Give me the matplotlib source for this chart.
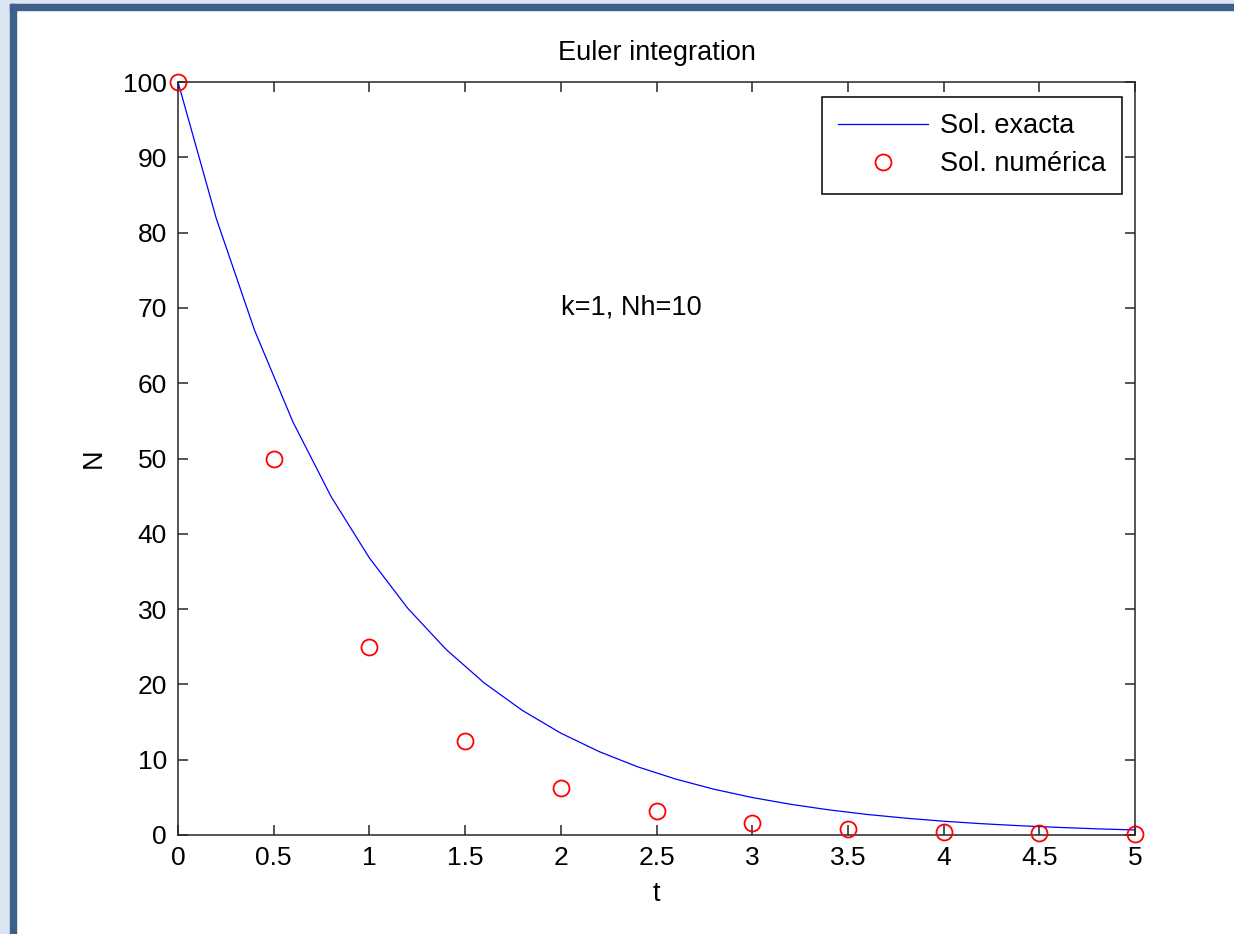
import matplotlib
matplotlib.use("Agg")
import matplotlib.pyplot as plt
from matplotlib.patches import Rectangle

# exact solution N = 100 exp(-t), sampled every 0.2
t_exact = [0.0, 0.2, 0.4, 0.6, 0.8, 1.0, 1.2, 1.4, 1.6, 1.8, 2.0, 2.2, 2.4,
           2.6, 2.8, 3.0, 3.2, 3.4, 3.6, 3.8, 4.0, 4.2, 4.4, 4.6, 4.8, 5.0]
n_exact = [100.0, 81.87, 67.03, 54.88, 44.93, 36.79, 30.12, 24.66, 20.19,
           16.53, 13.53, 11.08, 9.07, 7.43, 6.08, 4.98, 4.08, 3.34, 2.73,
           2.24, 1.83, 1.50, 1.23, 1.01, 0.82, 0.67]

# Euler steps, h = 0.5
t_num = [0.0, 0.5, 1.0, 1.5, 2.0, 2.5, 3.0, 3.5, 4.0, 4.5, 5.0]
n_num = [100.0, 50.0, 25.0, 12.5, 6.25, 3.125, 1.5625, 0.78, 0.39, 0.2, 0.1]

x_ticks = [0, 0.5, 1, 1.5, 2, 2.5, 3, 3.5, 4, 4.5, 5]
x_labels = ["0", "0.5", "1", "1.5", "2", "2.5", "3", "3.5", "4", "4.5", "5"]
y_ticks = [0, 10, 20, 30, 40, 50, 60, 70, 80, 90, 100]

plt.rcParams["font.family"] = ["Liberation Sans", "DejaVu Sans"]
plt.rcParams["font.size"] = 19.5

fig = plt.figure(figsize=(12.34, 9.34), dpi=100)

# window frame like the screenshot
W, H = 1234, 934
fig.patches.append(Rectangle((0, 0), 10 / W, 1, transform=fig.transFigure,
                             color="#dce6f2", zorder=0))
fig.patches.append(Rectangle((0, 1 - 4 / H), 1, 4 / H, transform=fig.transFigure,
                             color="#dce6f2", zorder=0))
fig.patches.append(Rectangle((10 / W, 0), 6 / W, 1 - 4 / H, transform=fig.transFigure,
                             color="#3d5f8c", zorder=1))
fig.patches.append(Rectangle((10 / W, 1 - 10 / H), 1, 6 / H, transform=fig.transFigure,
                             color="#3d5f8c", zorder=1))

ax = fig.add_axes([178 / W, 1 - 835 / H, (1135 - 178) / W, (835 - 82) / H])

ax.plot(t_exact, n_exact, color="blue", lw=0.9, label="Sol. exacta")
ax.plot(t_num, n_num, "o", color="red", mfc="none", mec="red", ms=11.5,
        mew=1.3, clip_on=False, zorder=5, label="Sol. numérica")

ax.set_xlim(0, 5)
ax.set_ylim(0, 100)
ax.set_xticks(x_ticks)
ax.set_xticklabels(x_labels)
ax.set_yticks(y_ticks)
ax.tick_params(direction="in", length=7, width=1.1, top=True, right=True,
               pad=8, colors="#262626", labelcolor="black", labelsize=19)
for s in ax.spines.values():
    s.set_linewidth(1.1)
    s.set_color("#262626")

ax.set_title("Euler integration", fontsize=19.5, pad=16)
ax.set_xlabel("t", labelpad=8)
ax.set_ylabel("N", labelpad=12)
ax.text(2, 70, "k=1, Nh=10", ha="left", va="center")

leg = ax.legend(loc="upper right", bbox_to_anchor=(0.9864, 0.980),
                fancybox=False, framealpha=1, edgecolor="black",
                handlelength=3.3, borderpad=0.6, labelspacing=0.45,
                handletextpad=0.45, borderaxespad=0)
leg.get_frame().set_linewidth(1.1)

fig.savefig("out.png", dpi=100)
